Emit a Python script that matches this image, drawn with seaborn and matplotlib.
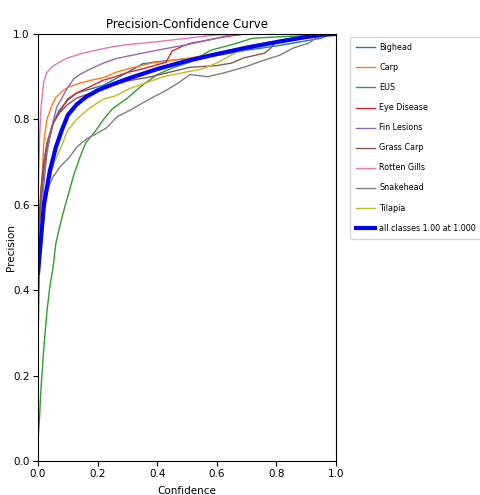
import matplotlib
matplotlib.use("Agg")
import matplotlib.pyplot as plt
import seaborn as sns
import pandas as pd

names = ["Bighead", "Carp", "EUS", "Eye Disease", "Fin Lesions", "Grass Carp",
         "Rotten Gills", "Snakehead", "Tilapia"]
colors = ["#1f77b4", "#ff7f0e", "#2ca02c", "#d62728", "#9467bd", "#8c564b",
          "#e377c2", "#7f7f7f", "#bcbd22"]

bighead_x = [0, 0.01, 0.02, 0.03, 0.05, 0.07, 0.1, 0.13, 0.17, 0.22, 0.26, 0.3, 0.35, 0.4, 0.5, 0.6, 0.7, 0.8, 0.9, 0.95, 0.98, 1.0]
bighead_y = [0.45, 0.6, 0.68, 0.73, 0.79, 0.82, 0.845, 0.862, 0.87, 0.88, 0.895, 0.91, 0.93, 0.935, 0.942, 0.95, 0.962, 0.972, 0.984, 0.99, 1.0, 1.0]

carp_x = [0, 0.005, 0.01, 0.02, 0.03, 0.045, 0.06, 0.08, 0.1, 0.14, 0.18, 0.22, 0.26, 0.3, 0.38, 0.45, 0.51, 0.6, 0.72, 0.85, 0.95, 1.0]
carp_y = [0.45, 0.55, 0.62, 0.75, 0.8, 0.83, 0.852, 0.865, 0.875, 0.885, 0.892, 0.898, 0.91, 0.918, 0.932, 0.938, 0.944, 0.955, 0.974, 0.987, 0.993, 1.0]

eus_x = [0, 0.005, 0.01, 0.02, 0.03, 0.04, 0.05, 0.06, 0.08, 0.1, 0.12, 0.14, 0.16, 0.19, 0.22, 0.25, 0.3, 0.35, 0.4, 0.45, 0.51, 0.58, 0.65, 0.72, 0.8, 0.9, 1.0]
eus_y = [0.05, 0.1, 0.17, 0.27, 0.35, 0.41, 0.45, 0.51, 0.57, 0.62, 0.67, 0.71, 0.745, 0.77, 0.8, 0.825, 0.85, 0.88, 0.905, 0.92, 0.934, 0.962, 0.975, 0.99, 0.993, 0.996, 1.0]

eye_x = [0, 0.005, 0.01, 0.02, 0.03, 0.04, 0.05, 0.07, 0.1, 0.13, 0.17, 0.22, 0.26, 0.3, 0.35, 0.4, 0.43, 0.45, 0.48, 0.51, 0.55, 0.6, 0.65, 0.7, 1.0]
eye_y = [0.5, 0.58, 0.64, 0.7, 0.74, 0.76, 0.79, 0.815, 0.848, 0.862, 0.875, 0.892, 0.9, 0.91, 0.918, 0.928, 0.934, 0.96, 0.97, 0.978, 0.983, 0.99, 0.996, 1.0, 1.0]

fin_x = [0, 0.005, 0.01, 0.02, 0.03, 0.045, 0.063, 0.08, 0.1, 0.12, 0.14, 0.17, 0.22, 0.26, 0.3, 0.4, 0.5, 0.6, 0.66, 1.0]
fin_y = [0.28, 0.45, 0.55, 0.65, 0.72, 0.78, 0.829, 0.85, 0.875, 0.895, 0.905, 0.916, 0.932, 0.942, 0.948, 0.962, 0.975, 0.99, 1.0, 1.0]

grass_x = [0, 0.005, 0.01, 0.02, 0.03, 0.05, 0.074, 0.1, 0.13, 0.17, 0.21, 0.24, 0.3, 0.38, 0.45, 0.51, 0.6, 0.65, 0.69, 0.76, 0.78, 0.8, 0.85, 0.92, 1.0]
grass_y = [0.45, 0.55, 0.62, 0.7, 0.745, 0.79, 0.817, 0.835, 0.85, 0.86, 0.869, 0.878, 0.89, 0.9, 0.912, 0.922, 0.926, 0.932, 0.944, 0.955, 0.966, 0.984, 0.99, 0.995, 1.0]

rotten_x = [0, 0.005, 0.01, 0.02, 0.03, 0.05, 0.08, 0.1, 0.15, 0.2, 0.25, 0.3, 0.4, 0.5, 0.6, 0.7, 1.0]
rotten_y = [0.62, 0.75, 0.83, 0.89, 0.91, 0.925, 0.937, 0.944, 0.955, 0.963, 0.97, 0.975, 0.982, 0.99, 0.998, 1.0, 1.0]

snake_x = [0, 0.005, 0.01, 0.02, 0.035, 0.05, 0.075, 0.104, 0.13, 0.164, 0.2, 0.23, 0.265, 0.31, 0.35, 0.386, 0.43, 0.47, 0.51, 0.57, 0.63, 0.695, 0.76, 0.81, 0.856, 0.91, 0.946, 0.97, 1.0]
snake_y = [0.4, 0.5, 0.56, 0.6, 0.64, 0.665, 0.69, 0.71, 0.735, 0.755, 0.768, 0.78, 0.806, 0.822, 0.838, 0.852, 0.868, 0.885, 0.905, 0.9, 0.91, 0.923, 0.939, 0.95, 0.967, 0.979, 0.998, 1.0, 1.0]

tilapia_x = [0, 0.003, 0.01, 0.02, 0.037, 0.055, 0.077, 0.1, 0.13, 0.17, 0.22, 0.26, 0.31, 0.36, 0.42, 0.49, 0.55, 0.6, 0.66, 0.72, 0.76, 0.82, 0.9, 1.0]
tilapia_y = [0.42, 0.5, 0.56, 0.61, 0.658, 0.7, 0.735, 0.775, 0.8, 0.825, 0.848, 0.855, 0.873, 0.885, 0.9, 0.91, 0.918, 0.932, 0.955, 0.968, 0.979, 0.985, 0.995, 1.0]

all_x = [0, 0.01, 0.02, 0.04, 0.06, 0.08, 0.1, 0.13, 0.16, 0.2, 0.25, 0.3, 0.4, 0.5, 0.6, 0.7, 0.8, 0.9, 0.95, 1.0]
all_y = [0.44, 0.52, 0.6, 0.68, 0.735, 0.775, 0.81, 0.835, 0.852, 0.868, 0.882, 0.895, 0.918, 0.937, 0.953, 0.968, 0.981, 0.993, 0.998, 1.0]
all_label = "all classes 1.00 at 1.000"

series = [(bighead_x, bighead_y), (carp_x, carp_y), (eus_x, eus_y), (eye_x, eye_y),
          (fin_x, fin_y), (grass_x, grass_y), (rotten_x, rotten_y),
          (snake_x, snake_y), (tilapia_x, tilapia_y)]

plt.rcParams['font.family'] = ['DejaVu Sans']

fig = plt.figure(figsize=(4.8, 4.95), dpi=100)
ax = fig.add_axes([38/480, 1 - 461/495, 298/480, 427/495])

for name, col, (xs, ys) in zip(names, colors, series):
    df = pd.DataFrame({"Confidence": xs, "Precision": ys})
    sns.lineplot(data=df, x="Confidence", y="Precision", ax=ax, color=col,
                 linewidth=1, label=name, estimator=None, sort=False)

df_all = pd.DataFrame({"Confidence": all_x, "Precision": all_y})
sns.lineplot(data=df_all, x="Confidence", y="Precision", ax=ax, color="blue",
             linewidth=3, label=all_label, estimator=None, sort=False)

ax.set_xlim(0, 1)
ax.set_ylim(0, 1)
ax.set_xticks([0, 0.2, 0.4, 0.6, 0.8, 1.0])
ax.set_yticks([0, 0.2, 0.4, 0.6, 0.8, 1.0])
ax.tick_params(labelsize=7.5, length=3.5, pad=2.5)
ax.set_xlabel("Confidence", fontsize=7.5)
ax.set_ylabel("Precision", fontsize=7.5)
ax.xaxis.set_label_coords(0.5, -0.058)
ax.yaxis.set_label_coords(-0.075, 0.5)
ax.set_title("Precision-Confidence Curve", fontsize=8.5, pad=4)
ax.legend(bbox_to_anchor=(1.035, 1.002), loc="upper left", fontsize=5.8,
          frameon=True, labelspacing=1.37, handlelength=2.3, handletextpad=0.55,
          borderpad=0.75, borderaxespad=0.5)

fig.savefig("out.png", dpi=100)
